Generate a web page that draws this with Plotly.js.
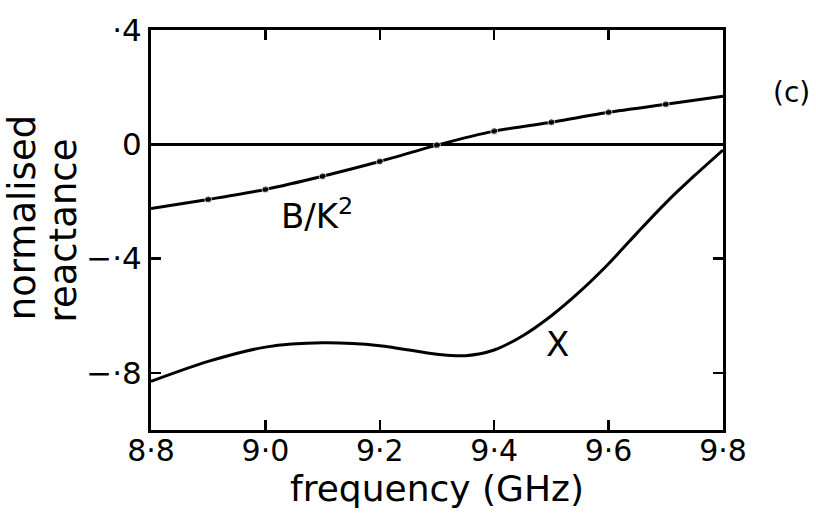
<!DOCTYPE html>
<html>
<head>
<meta charset="utf-8">
<script src="https://cdn.plot.ly/plotly-3.0.1.min.js"></script>
<style>
html,body{margin:0;padding:0;background:#fff;}
#chart{width:816px;height:516px;}
</style>
</head>
<body>
<div id="chart"></div>
<script>
// Data
var freqB = [8.8, 8.9, 9.0, 9.1, 9.2, 9.3, 9.4, 9.5, 9.6, 9.7, 9.8];
var bOverK2 = [-0.225, -0.193, -0.158, -0.112, -0.06, -0.003, 0.046, 0.077, 0.112, 0.14, 0.168];

var freqX = [8.8, 8.9, 9.0, 9.1, 9.2, 9.3, 9.35, 9.4, 9.45, 9.5, 9.55, 9.6, 9.65, 9.7, 9.75, 9.8];
var reactX = [-0.83, -0.76, -0.71, -0.695, -0.705, -0.735, -0.74, -0.72, -0.67, -0.6, -0.515, -0.418, -0.31, -0.205, -0.11, -0.02];

var xTickVals = [8.8, 9.0, 9.2, 9.4, 9.6, 9.8];
var xTickText = ['8·8', '9·0', '9·2', '9·4', '9·6', '9·8'];
var yTickVals = [0.4, 0, -0.4, -0.8];
var yTickText = ['·4', '0', '−·4', '−·8'];

var FONT = 'DejaVu Sans, sans-serif';

// markers only on interior points (none at the ends)
var bMarkerSizes = freqB.map(function(f, i){ return (i === 0 || i === freqB.length - 1) ? 0 : 7; });

var traces = [
  {
    x: freqB, y: bOverK2, type: 'scatter', mode: 'lines+markers',
    line: {color: '#000', width: 3, shape: 'spline', smoothing: 0.6},
    marker: {color: '#000', size: bMarkerSizes},
    hoverinfo: 'skip', showlegend: false
  },
  {
    x: freqX, y: reactX, type: 'scatter', mode: 'lines',
    line: {color: '#000', width: 3, shape: 'spline', smoothing: 0.8},
    hoverinfo: 'skip', showlegend: false
  }
];

var layout = {
  width: 816, height: 516,
  margin: {l: 151, r: 93, t: 30, b: 86},
  paper_bgcolor: '#fff', plot_bgcolor: '#fff',
  font: {family: FONT, color: '#000', size: 30},
  showlegend: false,
  xaxis: {
    range: [8.8, 9.8],
    tickvals: xTickVals, ticktext: xTickText,
    ticks: 'inside', ticklen: 10, tickwidth: 2.5, tickcolor: '#000',
    mirror: 'ticks', showline: true, linecolor: '#000', linewidth: 3,
    showgrid: false, zeroline: false,
    ticklabelstandoff: -8,
    tickfont: {family: FONT, size: 30, color: '#000'},
    title: {text: 'frequency (GHz)', font: {family: FONT, size: 36, color: '#000'}, standoff: 0}
  },
  yaxis: {
    range: [-1.0, 0.4],
    tickvals: yTickVals, ticktext: yTickText,
    ticks: 'inside', ticklen: 10, tickwidth: 2.5, tickcolor: '#000',
    mirror: 'ticks', showline: true, linecolor: '#000', linewidth: 3,
    showgrid: false,
    zeroline: true, zerolinecolor: '#000', zerolinewidth: 2.5,
    tickfont: {family: FONT, size: 31, color: '#000'},
    title: {text: ''}
  },
  annotations: [
    {xref: 'paper', yref: 'paper', x: -0.225, y: 0.53, text: 'normalised', textangle: -90,
     showarrow: false, font: {family: FONT, size: 37, color: '#000'}, xanchor: 'center', yanchor: 'middle'},
    {xref: 'paper', yref: 'paper', x: -0.153, y: 0.50, text: 'reactance', textangle: -90,
     showarrow: false, font: {family: FONT, size: 37, color: '#000'}, xanchor: 'center', yanchor: 'middle'},
    {xref: 'x', yref: 'y', x: 9.09, y: -0.245, text: 'B/K<sup>2</sup>',
     showarrow: false, font: {family: FONT, size: 34, color: '#000'}, xanchor: 'center', yanchor: 'middle'},
    {xref: 'x', yref: 'y', x: 9.511, y: -0.70, text: 'X',
     showarrow: false, font: {family: FONT, size: 34, color: '#000'}, xanchor: 'center', yanchor: 'middle'},
    {xref: 'paper', yref: 'paper', x: 1.12, y: 0.845, text: '(c)',
     showarrow: false, font: {family: FONT, size: 28, color: '#000'}, xanchor: 'center', yanchor: 'middle'}
  ]
};

Plotly.newPlot('chart', traces, layout, {staticPlot: true, displayModeBar: false});
</script>
</body>
</html>
